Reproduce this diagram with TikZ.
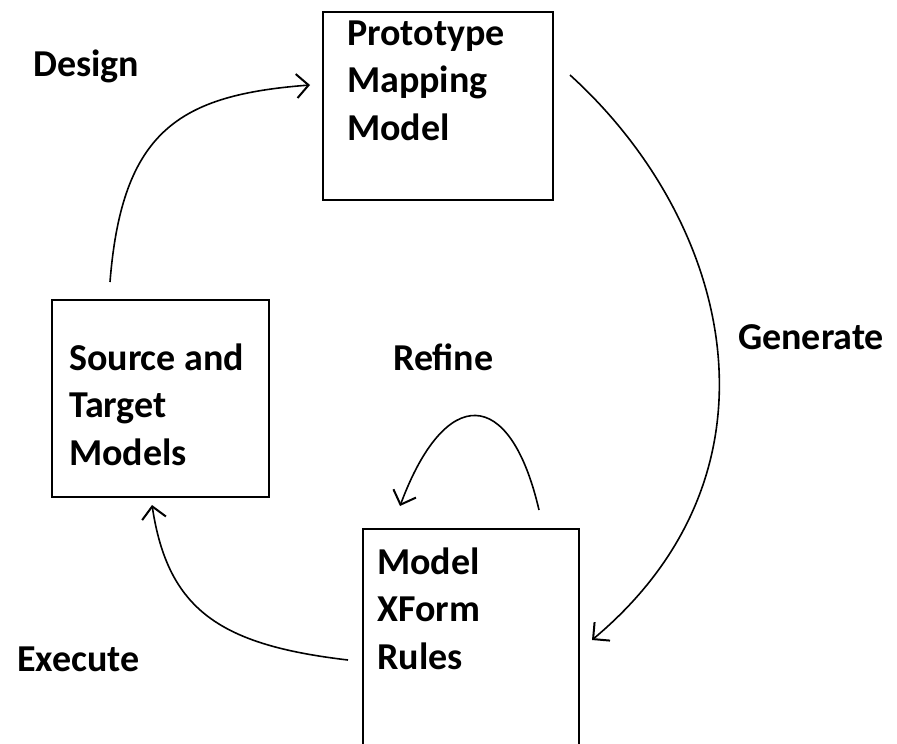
\documentclass[tikz,border=0pt]{standalone}
\usepackage{fontspec}
\setmainfont{Carlito}
\usetikzlibrary{arrows.meta}

\tikzset{
  box/.style={draw, line width=2pt, rectangle, inner sep=0pt},
  boxtext/.style={anchor=base west, align=left, inner sep=0pt,
    font=\fontsize{38}{47.5}\selectfont\bfseries},
  label/.style={anchor=base west, inner sep=0pt,
    font=\fontsize{38}{44}\selectfont\bfseries},
  flow/.style={line width=1.6pt, -{Straight Barb[angle=90:17pt, line width=2pt]}},
}

\begin{document}
\begin{tikzpicture}[x=1pt, y=-1pt]
  \useasboundingbox (0,0) rectangle (897,744);

  % boxes
  \node[box, minimum width=230pt, minimum height=188pt] (proto) at (438,106) {};
  \node[box, minimum width=217pt, minimum height=197pt] (src) at (160.5,398.5) {};
  \node[box, minimum width=216pt, minimum height=231pt] (xform) at (471,644.5) {};

  % box contents (anchored at the baseline of the last line)
  \node[boxtext] (protot) at (347,140) {Prototype\\Mapping\\Model};
  \node[boxtext] (srct) at (69,465) {Source and\\Target\\Models};
  \node[boxtext] (xformt) at (377,669) {Model\\XForm\\Rules};

  % step labels
  \node[label] (design) at (33,76) {Design};
  \node[label] (generate) at (738,349) {Generate};
  \node[label] (refine) at (393,370) {Refine};
  \node[label] (execute) at (17,671) {Execute};

  % connector end points
  \coordinate (d0) at (110,282);
  \coordinate (d1) at (310,85);
  \coordinate (g0) at (570,75);
  \coordinate (g1) at (592,640);
  \coordinate (r0) at (539,510);
  \coordinate (r1) at (400,506);
  \coordinate (e0) at (348,660);
  \coordinate (e1) at (152,505);

  % cycle of steps
  \draw[flow] (d0) .. controls (122,130) and (180,95) .. (d1);
  \draw[flow] (g0) .. controls (730,220) and (795,470) .. (g1);
  \draw[flow] (r0) .. controls (510,385) and (445,385) .. (r1);
  \draw[flow] (e0) .. controls (220,645) and (168,610) .. (e1);
\end{tikzpicture}
\end{document}
